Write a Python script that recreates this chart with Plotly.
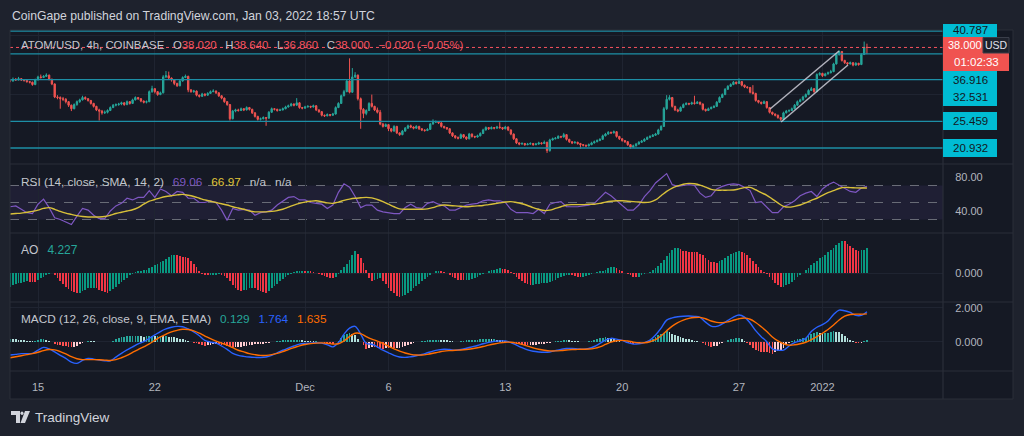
import plotly.graph_objects as go
import pandas as pd

# ---------------- data ----------------
TITLE = "CoinGape published on TradingView.com, Jan 03, 2022 18:57 UTC"
FIRST_CANDLE = "2021-11-13 08:00"
X_RANGE = ["2021-11-13 07:44", "2022-01-08 05:22"]
TICK_DATES = ["2021-11-15", "2021-11-22", "2021-12-01", "2021-12-06",
              "2021-12-13", "2021-12-20", "2021-12-27", "2022-01-01"]
TICK_TEXT = ["15", "22", "Dec", "6", "13", "20", "27", "2022"]

OPEN = [
 32.4,32.3,32.6,32.5,32.7,32.5,32.4,32.2,32.1,31.7,
 32.5,33.0,32.9,33.1,33.3,32.6,31.8,29.6,29.5,29.3,
 29.2,28.8,28.2,27.6,28.3,28.8,29.1,29.5,29.3,29.0,
 28.5,28.0,27.4,27.2,26.9,27.0,27.3,27.8,28.2,28.3,
 28.4,28.6,28.3,28.8,28.5,29.1,29.5,29.3,28.9,28.7,
 28.8,30.5,31.0,30.5,30.0,30.3,33.0,33.2,32.8,32.5,
 31.9,31.5,32.3,32.9,33.1,30.8,30.5,30.6,29.9,29.7,
 30.1,29.9,30.2,30.5,30.6,30.3,29.8,29.4,28.8,28.3,
 25.9,27.2,27.4,27.3,27.6,27.4,27.8,27.5,26.9,26.3,
 25.8,25.9,26.1,26.0,27.0,27.6,27.5,27.3,27.4,27.6,
 27.9,28.1,28.4,28.2,28.6,27.8,27.7,27.9,28.0,27.9,
 28.1,27.4,27.1,26.5,26.4,26.6,26.5,26.7,27.8,28.5,
 29.8,30.5,32.3,30.4,33.0,33.3,29.3,27.5,26.8,27.3,
 28.5,28.0,27.4,27.0,25.0,24.6,24.9,24.2,23.8,24.6,
 23.5,23.2,23.8,24.3,24.7,24.5,24.3,24.6,24.2,24.0,
 23.9,24.1,25.0,25.3,25.4,25.2,24.6,24.4,24.2,23.5,
 23.0,22.7,22.6,23.2,22.8,22.5,23.3,22.9,22.8,23.0,
 23.4,24.0,24.4,24.2,24.4,24.3,24.5,24.4,24.2,24.5,
 24.0,23.3,22.5,21.8,21.6,21.7,21.5,21.6,21.7,21.5,
 21.6,21.8,21.7,21.9,20.5,22.3,22.5,22.6,22.9,22.8,
 23.2,22.4,22.0,21.8,21.9,21.7,21.5,21.4,21.3,21.5,
 21.8,22.0,22.2,22.4,23.0,23.3,23.6,23.5,23.7,22.9,
 22.5,22.2,22.0,21.5,21.1,21.3,21.6,21.9,22.1,22.4,
 22.7,22.9,23.1,23.3,24.0,24.6,27.6,29.2,29.5,28.0,
 27.4,27.2,27.8,28.3,28.5,28.4,28.6,28.5,28.7,28.4,
 27.5,27.3,27.6,27.8,28.0,28.7,29.5,30.0,30.9,31.4,
 31.7,32.1,31.9,32.2,31.6,31.3,31.2,30.4,30.2,29.0,
 28.7,28.5,28.8,27.8,27.0,26.7,26.5,26.1,25.8,26.9,
 27.2,27.3,27.6,28.2,28.8,29.1,29.6,30.0,30.7,31.0,
 30.5,33.4,33.6,33.2,33.5,33.7,33.9,35.2,36.8,37.3,
 35.8,35.4,35.2,35.4,35.0,35.3,35.1,36.8,38.02]

HIGH = [
 32.6,32.9,32.8,33.0,32.8,32.6,32.5,32.3,32.2,32.7,
 33.2,33.4,33.3,33.6,33.4,32.7,31.9,29.9,29.7,29.6,
 29.4,28.9,28.3,28.5,29.0,29.3,29.8,29.7,29.4,29.1,
 28.6,28.1,27.6,27.4,27.3,27.5,28.0,28.4,28.5,28.6,
 28.8,28.7,29.0,28.9,29.3,29.7,29.6,29.4,29.0,29.0,
 30.7,31.5,31.1,30.6,30.5,33.3,34.0,33.9,32.9,32.6,
 32.0,32.5,33.1,33.4,33.2,30.9,30.8,30.7,30.0,30.3,
 30.2,30.4,30.7,30.9,30.7,30.4,29.9,29.5,28.9,28.4,
 27.4,27.6,27.6,27.8,27.7,28.0,27.9,27.6,27.0,26.4,
 26.1,26.3,26.2,27.2,27.8,27.7,27.6,27.6,27.8,28.1,
 28.3,28.6,28.5,29.4,28.7,27.9,28.1,28.2,28.1,28.3,
 28.2,27.5,27.2,26.6,26.8,26.7,26.9,28.0,28.7,30.0,
 30.8,32.5,36.15,34.5,33.8,33.4,29.5,27.7,27.5,28.7,
 30.0,28.1,27.8,27.4,25.2,25.1,25.0,24.3,24.8,24.7,
 23.6,24.0,24.5,24.9,24.9,24.6,24.8,24.7,24.3,24.1,
 24.3,25.2,25.8,25.6,25.5,25.3,24.7,24.5,24.3,23.6,
 23.1,22.9,23.4,23.3,22.9,23.5,23.4,23.0,23.2,23.6,
 24.2,24.6,24.5,24.6,24.5,24.7,25.3,24.5,24.7,24.6,
 24.1,23.4,22.6,21.9,21.9,21.8,21.8,21.9,21.8,21.8,
 22.0,21.9,22.2,22.0,22.5,22.7,22.8,23.1,23.0,23.5,
 23.3,22.5,22.1,22.1,22.0,21.8,21.6,21.5,21.7,22.0,
 22.2,22.4,22.6,23.2,23.5,23.8,23.7,23.9,23.8,23.0,
 22.6,22.3,22.1,21.6,21.5,21.8,22.1,22.3,22.6,22.9,
 23.1,23.3,23.5,24.2,24.8,27.9,29.9,29.9,29.6,28.1,
 27.6,28.0,28.5,28.7,28.6,28.8,29.8,28.9,28.8,28.5,
 27.6,27.8,28.0,28.2,28.9,29.7,30.2,31.1,31.6,31.9,
 32.3,32.2,32.76,32.3,31.7,31.4,31.3,31.6,30.3,29.1,
 28.8,29.0,28.9,27.9,27.1,26.8,26.6,26.2,27.1,27.4,
 27.5,27.8,28.4,29.0,29.3,29.8,30.2,30.9,31.3,31.1,
 33.6,33.8,33.7,33.7,33.9,34.2,35.4,37.0,37.5,37.4,
 35.9,35.5,35.6,35.5,35.5,35.4,37.0,39.0,38.64]

LOW = [
 32.1,32.2,32.3,32.4,32.3,32.2,32.0,31.9,31.5,31.6,
 32.4,32.7,32.8,33.0,32.4,31.6,29.4,29.2,27.6,28.9,
 28.5,27.9,27.2,27.5,28.1,28.6,29.0,29.1,28.8,28.3,
 27.8,27.2,25.6,26.6,26.7,26.8,27.2,27.7,28.0,28.1,
 28.2,28.1,28.2,28.3,28.4,29.0,29.1,28.7,28.5,28.5,
 28.7,30.3,30.2,29.8,29.9,30.2,32.8,32.6,32.2,31.6,
 31.3,31.4,32.2,32.8,30.4,30.3,30.3,29.7,29.5,29.6,
 29.7,29.8,30.1,30.4,30.1,29.6,29.2,28.6,28.1,25.6,
 25.8,27.0,27.1,27.2,27.2,27.3,27.3,26.7,26.1,25.6,
 25.6,25.8,24.7,25.9,26.9,27.3,27.1,27.2,27.3,27.5,
 27.8,28.0,28.0,28.1,27.6,27.5,27.6,27.8,27.7,27.8,
 27.2,26.9,26.3,26.2,26.3,26.3,26.4,26.6,27.7,28.4,
 29.7,30.4,30.2,30.3,32.8,29.0,24.2,26.0,26.5,27.2,
 27.8,27.2,26.8,24.8,24.4,24.5,23.8,23.6,23.7,23.3,
 23.0,23.1,23.7,24.2,24.3,24.1,24.2,24.0,23.8,23.7,
 23.8,24.0,24.9,25.2,25.0,24.4,24.2,24.0,23.3,22.8,
 22.5,22.4,22.5,22.6,22.3,22.4,22.7,22.6,22.7,22.9,
 23.3,23.9,24.0,24.1,24.1,24.2,24.2,24.0,24.1,23.8,
 23.1,22.3,21.6,21.4,21.5,21.3,21.4,21.5,21.3,21.4,
 21.5,21.5,21.6,20.1,20.3,22.2,22.4,22.5,22.6,22.7,
 22.2,21.8,21.6,21.7,21.5,20.8,21.2,21.1,21.2,21.4,
 21.7,21.9,22.1,22.3,22.9,23.2,23.3,23.4,22.7,22.3,
 22.0,21.8,21.3,20.8,21.0,21.2,21.5,21.8,22.0,22.3,
 22.6,22.8,23.0,23.2,23.9,24.5,27.4,29.0,27.8,27.2,
 27.0,27.1,27.7,28.2,28.2,28.3,28.3,28.4,28.2,27.3,
 27.1,27.2,27.5,27.7,27.9,28.6,29.4,29.9,30.8,31.3,
 31.6,31.7,31.8,31.4,31.1,31.0,30.2,30.0,28.8,28.5,
 28.3,28.4,27.6,26.8,26.5,26.3,25.9,25.4,25.7,26.8,
 27.0,27.2,27.5,28.1,28.7,29.0,29.5,29.9,30.6,30.3,
 30.4,33.2,33.0,33.1,33.4,33.6,33.8,35.1,36.6,35.6,
 35.2,35.0,35.1,34.8,34.9,34.9,35.0,36.7,36.86]

CLOSE = [
 32.3,32.6,32.5,32.7,32.5,32.4,32.2,32.1,31.7,32.5,
 33.0,32.9,33.1,33.3,32.6,31.8,29.6,29.5,29.3,29.2,
 28.8,28.2,27.6,28.3,28.8,29.1,29.5,29.3,29.0,28.5,
 28.0,27.4,27.2,26.9,27.0,27.3,27.8,28.2,28.3,28.4,
 28.6,28.3,28.8,28.5,29.1,29.5,29.3,28.9,28.7,28.8,
 30.5,31.0,30.5,30.0,30.3,33.0,33.2,32.8,32.5,31.9,
 31.5,32.3,32.9,33.1,30.8,30.5,30.6,29.9,29.7,30.1,
 29.9,30.2,30.5,30.6,30.3,29.8,29.4,28.8,28.3,25.9,
 27.2,27.4,27.3,27.6,27.4,27.8,27.5,26.9,26.3,25.8,
 25.9,26.1,26.0,27.0,27.6,27.5,27.3,27.4,27.6,27.9,
 28.1,28.4,28.2,28.6,27.8,27.7,27.9,28.0,27.9,28.1,
 27.4,27.1,26.5,26.4,26.6,26.5,26.7,27.8,28.5,29.8,
 30.5,32.3,30.4,33.0,33.3,29.3,27.5,26.8,27.3,28.5,
 28.0,27.4,27.0,25.0,24.6,24.9,24.2,23.8,24.6,23.5,
 23.2,23.8,24.3,24.7,24.5,24.3,24.6,24.2,24.0,23.9,
 24.1,25.0,25.3,25.4,25.2,24.6,24.4,24.2,23.5,23.0,
 22.7,22.6,23.2,22.8,22.5,23.3,22.9,22.8,23.0,23.4,
 24.0,24.4,24.2,24.4,24.3,24.5,24.4,24.2,24.5,24.0,
 23.3,22.5,21.8,21.6,21.7,21.5,21.6,21.7,21.5,21.6,
 21.8,21.7,21.9,20.5,22.3,22.5,22.6,22.9,22.8,23.2,
 22.4,22.0,21.8,21.9,21.7,21.5,21.4,21.3,21.5,21.8,
 22.0,22.2,22.4,23.0,23.3,23.6,23.5,23.7,22.9,22.5,
 22.2,22.0,21.5,21.1,21.3,21.6,21.9,22.1,22.4,22.7,
 22.9,23.1,23.3,24.0,24.6,27.6,29.2,29.5,28.0,27.4,
 27.2,27.8,28.3,28.5,28.4,28.6,28.5,28.7,28.4,27.5,
 27.3,27.6,27.8,28.0,28.7,29.5,30.0,30.9,31.4,31.7,
 32.1,31.9,32.2,31.6,31.3,31.2,30.4,30.2,29.0,28.7,
 28.5,28.8,27.8,27.0,26.7,26.5,26.1,25.8,26.9,27.2,
 27.3,27.6,28.2,28.8,29.1,29.6,30.0,30.7,31.0,30.5,
 33.4,33.6,33.2,33.5,33.7,33.9,35.2,36.8,37.3,35.8,
 35.4,35.2,35.4,35.0,35.3,35.1,36.8,38.02,38.0]

AO = [
 -2.3,-2.1,-1.9,-1.7,-1.6,-1.5,-1.4,-1.45,-1.5,-1.55,
 -1.2,-0.9,-0.6,-0.3,-0.1,-0.05,-0.4,-0.9,-1.4,-1.9,
 -2.3,-2.7,-3.0,-3.2,-3.3,-3.3,-3.1,-2.9,-2.6,-2.5,
 -2.45,-2.6,-2.8,-3.0,-3.2,-3.3,-3.1,-2.7,-2.3,-1.9,
 -1.5,-1.1,-0.8,-0.4,-0.1,0.2,0.3,0.4,0.5,0.6,
 0.8,1.1,1.3,1.5,1.8,2.1,2.4,2.8,3.0,3.1,
 3.0,2.9,2.8,2.7,2.5,2.1,1.6,1.0,0.4,-0.1,
 -0.3,-0.4,-0.35,-0.3,-0.25,-0.2,-0.3,-0.5,-0.8,-1.4,
 -2.0,-2.5,-2.9,-3.1,-2.9,-2.8,-2.6,-2.5,-2.6,-2.8,
 -3.0,-3.2,-3.3,-3.0,-2.6,-2.2,-1.8,-1.4,-1.0,-0.7,
 -0.4,-0.1,0.2,0.3,0.35,0.4,0.3,0.35,0.3,0.25,
 0.1,-0.2,-0.4,-0.5,-0.7,-0.8,-0.9,-0.6,-0.1,0.5,
 1.0,1.6,2.3,3.0,3.8,3.3,2.5,1.7,0.5,-0.9,
 -1.4,-1.2,-1.0,-0.8,-1.3,-1.9,-2.5,-3.0,-3.4,-3.8,
 -4.0,-3.9,-3.7,-3.4,-3.0,-2.6,-2.2,-1.8,-1.4,-1.0,
 -0.6,-0.3,0.1,0.3,0.4,0.35,0.2,0.0,-0.3,-0.6,
 -0.9,-1.1,-1.2,-1.25,-1.2,-1.1,-1.0,-0.8,-0.6,-0.4,
 -0.2,0.1,0.3,0.5,0.6,0.7,0.8,0.75,0.7,0.5,
 0.2,-0.2,-0.6,-1.0,-1.4,-1.7,-1.9,-2.0,-2.0,-1.9,
 -1.8,-1.7,-1.6,-1.6,-1.5,-1.3,-1.1,-0.9,-0.7,-0.5,
 -0.35,-0.3,-0.4,-0.5,-0.6,-0.65,-0.6,-0.5,-0.35,-0.2,
 0.0,0.15,0.3,0.4,0.6,0.8,1.0,1.1,0.9,0.6,
 0.3,0.0,-0.2,-0.4,-0.6,-0.7,-0.6,-0.4,-0.2,0.0,
 0.2,0.5,0.8,1.2,1.7,2.3,2.9,3.4,3.9,4.2,
 4.3,4.1,3.8,3.7,3.65,3.6,3.55,3.5,3.3,3.0,
 2.6,2.2,1.9,1.8,1.75,2.0,2.3,2.6,2.9,3.2,
 3.4,3.6,3.7,3.65,3.4,3.0,2.5,2.0,1.5,1.0,
 0.5,0.2,-0.2,-0.7,-1.2,-1.7,-2.1,-2.4,-2.3,-2.1,
 -1.8,-1.5,-1.1,-0.7,-0.3,0.1,0.5,0.9,1.3,1.7,
 2.1,2.5,2.8,3.1,3.5,3.9,4.3,4.7,5.1,5.5,
 5.4,5.0,4.6,4.2,3.9,3.7,3.85,4.0,4.227]

MACD_HIST = [
 0.16,0.15,0.14,0.13,0.12,0.09,0.06,0.04,0.02,0.07,
 0.12,0.16,0.19,0.11,0.04,-0.04,-0.12,-0.17,-0.22,-0.24,
 -0.26,-0.29,-0.32,-0.3,-0.27,-0.16,-0.05,0.01,0.07,0.05,
 0.03,0.0,-0.02,-0.03,-0.04,-0.03,-0.02,0.07,0.15,0.22,
 0.26,0.29,0.32,0.33,0.33,0.34,0.34,0.32,0.3,0.32,
 0.33,0.33,0.32,0.32,0.32,0.31,0.31,0.29,0.27,0.25,
 0.23,0.19,0.15,0.09,0.03,-0.02,-0.06,-0.1,-0.15,-0.2,
 -0.25,-0.22,-0.2,-0.16,-0.12,-0.15,-0.17,-0.21,-0.25,-0.3,
 -0.33,-0.32,-0.3,-0.28,-0.26,-0.23,-0.2,-0.18,-0.16,-0.14,
 -0.13,-0.11,-0.1,-0.07,-0.04,0.0,0.03,0.06,0.08,0.08,
 0.08,0.09,0.1,0.1,0.1,0.08,0.06,0.04,0.03,0.02,
 0.02,0.0,-0.01,-0.05,-0.09,-0.13,-0.16,-0.03,0.07,0.23,
 0.4,0.45,0.5,0.45,0.4,0.18,-0.03,-0.22,-0.4,-0.35,
 -0.3,-0.32,-0.34,-0.37,-0.4,-0.39,-0.39,-0.38,-0.38,-0.36,
 -0.35,-0.3,-0.26,-0.2,-0.14,-0.08,-0.04,0.0,0.03,0.06,
 0.09,0.11,0.13,0.13,0.13,0.12,0.11,0.09,0.06,0.03,
 0.0,0.01,0.03,0.06,0.08,0.1,0.11,0.12,0.13,0.15,
 0.16,0.16,0.16,0.15,0.15,0.13,0.12,0.1,0.07,0.02,
 -0.02,-0.07,-0.12,-0.16,-0.19,-0.21,-0.22,-0.21,-0.2,-0.18,
 -0.16,-0.14,-0.12,-0.09,-0.06,-0.02,0.02,0.05,0.07,0.08,
 0.09,0.08,0.06,0.04,0.03,0.01,0.0,0.01,0.03,0.07,
 0.11,0.16,0.2,0.24,0.26,0.24,0.22,0.16,0.09,0.04,
 0.0,-0.04,-0.09,-0.11,-0.12,-0.09,-0.06,-0.03,0.01,0.05,
 0.1,0.19,0.28,0.37,0.45,0.54,0.62,0.55,0.48,0.41,
 0.35,0.29,0.23,0.18,0.14,0.1,0.07,0.03,0.0,-0.1,
 -0.2,-0.25,-0.3,-0.27,-0.24,-0.15,-0.07,0.01,0.08,0.14,
 0.19,0.21,0.22,0.14,0.06,-0.08,-0.22,-0.35,-0.48,-0.54,
 -0.58,-0.59,-0.6,-0.65,-0.7,-0.62,-0.55,-0.46,-0.37,-0.21,
 -0.05,0.04,0.13,0.15,0.17,0.2,0.23,0.36,0.48,0.52,
 0.55,0.53,0.5,0.5,0.5,0.56,0.62,0.6,0.58,0.45,
 0.32,0.22,0.12,0.02,-0.07,-0.08,-0.07,0.03,0.129]

# lines sampled every second candle (8h)
RSI = [
 45,46,42,38,37,48,54,44,32,30,
 27,24,34,43,41,35,31,31,40,46,
 49,55,53,56,56,64,56,66,63,58,
 63,62,55,55,50,50,52,50,41,29,
 43,41,42,41,35,38,39,41,47,51,
 56,57,53,53,50,49,48,43,47,62,
 72,68,57,44,47,47,41,39,38,37,
 37,44,48,44,43,49,51,48,46,41,
 41,44,47,48,49,52,53,52,52,50,
 42,38,38,38,37,42,37,48,50,51,
 45,45,45,46,47,49,56,62,58,52,
 46,41,41,47,57,64,73,79,84,71,
 69,70,71,70,61,56,58,66,69,71,
 72,71,68,64,50,51,44,38,38,45,
 48,52,58,61,63,57,66,71,74,70,
 67,63,62,67,69.06]

RSI_SMA = [
 36.5,37,37.5,38.5,39.5,41,43,44,42,39.5,
 37.5,36,34.5,33.5,33,33,33,33.5,35,37,
 38.5,40,41.5,44,48,51.5,53.5,55.5,57,58,
 59,59.6,58.5,57,55,53,51.5,50,48.5,47,
 45,43.5,42,40,39,39,39,39.5,40.5,42,
 44.5,47,49,50.5,51.5,52,51,49.5,49,50.5,
 52.5,54,55,55.5,56,55.5,53.5,51,48,45,
 42.5,42,42,42,42,42.5,44,46,47,46.5,
 46,45.5,45,45.5,46,46.5,47.5,48.5,49.5,50.5,
 51,50,48.5,46.5,44,42,40.5,41,43,45,
 47,47.5,47.5,47.5,48,48,49,50.5,51.5,52,
 52,51.5,51,50.5,50,50.5,53,58,63,67,
 69.5,71.5,72.5,72,70.5,68,65.5,64.5,64.5,64.5,
 64.7,66,67.5,67.8,65,61.5,58.5,54,49.5,45.5,
 44.5,45.5,47,49.5,52.5,55,58.5,61.5,64,66.5,
 67.8,67.5,67.2,67,66.97]

MACD = [
 -0.78,-0.74,-0.7,-0.7,-0.68,-0.5,-0.33,-0.42,-0.6,-0.8,
 -0.98,-1.2,-1.27,-1.1,-0.98,-1.02,-1.08,-1.12,-1.12,-0.9,
 -0.68,-0.48,-0.3,-0.12,0,0.2,0.4,0.6,0.75,0.85,
 0.9,0.88,0.75,0.58,0.35,0.08,-0.02,-0.08,-0.25,-0.45,
 -0.68,-0.8,-0.86,-0.9,-0.92,-0.93,-0.9,-0.8,-0.65,-0.5,
 -0.38,-0.25,-0.14,-0.1,-0.08,-0.06,-0.08,-0.18,-0.3,-0.05,
 0.45,0.8,0.9,0.45,-0.1,-0.15,-0.3,-0.5,-0.65,-0.8,
 -0.9,-0.92,-0.88,-0.82,-0.75,-0.65,-0.55,-0.48,-0.44,-0.46,
 -0.5,-0.46,-0.38,-0.3,-0.22,-0.12,-0.04,0.02,0.05,0.04,
 -0.05,-0.2,-0.35,-0.48,-0.56,-0.6,-0.62,-0.6,-0.52,-0.45,
 -0.4,-0.4,-0.42,-0.44,-0.4,-0.28,-0.1,0.1,0.2,0.15,
 0.08,-0.05,-0.14,-0.12,-0.05,0.1,0.4,0.8,1.27,1.4,
 1.47,1.5,1.51,1.49,1.43,1.15,0.92,0.9,1.05,1.25,
 1.45,1.57,1.45,1.1,0.65,0.3,0,-0.42,-0.5,-0.49,
 -0.25,-0.05,0.05,0.2,0.6,0.85,1.0,1.22,1.6,1.86,
 1.82,1.72,1.55,1.55,1.764]

SIGNAL = [
 -0.94,-0.88,-0.82,-0.76,-0.7,-0.62,-0.52,-0.46,-0.48,-0.58,
 -0.72,-0.88,-1.0,-1.05,-1.05,-1.05,-1.06,-1.08,-1.1,-1.05,
 -0.94,-0.8,-0.63,-0.46,-0.3,-0.13,0.08,0.28,0.44,0.58,
 0.67,0.73,0.72,0.64,0.5,0.33,0.18,0.04,-0.08,-0.2,
 -0.35,-0.5,-0.6,-0.7,-0.76,-0.8,-0.8,-0.76,-0.68,-0.58,
 -0.46,-0.35,-0.24,-0.16,-0.11,-0.08,-0.07,-0.09,-0.14,-0.12,
 0.05,0.3,0.5,0.48,0.3,0.15,0.04,-0.1,-0.26,-0.42,
 -0.55,-0.66,-0.74,-0.78,-0.78,-0.74,-0.68,-0.61,-0.55,-0.52,
 -0.5,-0.49,-0.46,-0.41,-0.35,-0.28,-0.2,-0.13,-0.07,-0.03,
 -0.03,-0.08,-0.16,-0.26,-0.36,-0.44,-0.5,-0.54,-0.54,-0.52,
 -0.49,-0.46,-0.45,-0.44,-0.43,-0.39,-0.3,-0.16,-0.02,0.06,
 0.08,0.04,-0.02,-0.06,-0.06,0.0,0.12,0.35,0.65,0.92,
 1.12,1.27,1.37,1.42,1.43,1.35,1.22,1.14,1.12,1.17,
 1.26,1.35,1.39,1.32,1.13,0.88,0.6,0.28,0.05,-0.12,
 -0.2,-0.18,-0.12,-0.03,0.12,0.3,0.5,0.72,0.98,1.28,
 1.5,1.6,1.62,1.62,1.635]

LEVELS = [40.787, 36.916, 32.531, 25.459, 20.932]
LAST_PRICE = 38.000
CHANNEL = [
    ("2021-12-28 20:38", 27.55, "2022-01-01 23:50", 37.39),
    ("2021-12-29 12:28", 25.34, "2022-01-02 12:43", 35.02),
]

n = len(CLOSE)
assert len(OPEN) == n and len(HIGH) == n and len(LOW) == n, (len(OPEN), len(HIGH), len(LOW), n)
assert len(AO) == n and len(MACD_HIST) == n, (len(AO), len(MACD_HIST))
assert len(RSI) == len(RSI_SMA) == len(MACD) == len(SIGNAL) == (n + 1) // 2

DATES = pd.date_range(FIRST_CANDLE, periods=n, freq="4h")
DATES_8H = DATES[::2]

# ---------------- style ----------------
W, H = 1024, 436
OUTER = "#1e222d"
BG = "#151924"
GRID = "#1f2431"
SEP = "#2a2e39"
TXT = "#b2b5be"
UP, DOWN = "#26a69a", "#ef5350"
FONT = "Liberation Sans, Arial, sans-serif"
NARROW = "Liberation Sans Narrow, Liberation Sans, sans-serif"


def fx(p):
    return p / W


def fy(p):
    return 1 - p / H


X0, X1 = 10, 943      # plotting area left/right (px)
RIGHT = 1013           # chart frame right
TOP = 30
P_SEP = [164, 233, 302, 371]
BOTTOM = 399

fig = go.Figure()

fig.add_trace(go.Candlestick(
    x=DATES, open=OPEN, high=HIGH, low=LOW, close=CLOSE,
    increasing=dict(line=dict(color=UP, width=1), fillcolor=UP),
    decreasing=dict(line=dict(color=DOWN, width=1), fillcolor=DOWN),
    whiskerwidth=0, xaxis="x", yaxis="y", hoverinfo="skip"))

fig.add_trace(go.Scatter(x=DATES_8H, y=RSI, mode="lines",
                         line=dict(color="#7e57c2", width=1.2), xaxis="x2", yaxis="y2"))
fig.add_trace(go.Scatter(x=DATES_8H, y=RSI_SMA, mode="lines",
                         line=dict(color="#d8c03a", width=1.4, shape="spline"), xaxis="x2", yaxis="y2"))

ao_colors = []
for i, v in enumerate(AO):
    rising = i == 0 or v >= AO[i - 1]
    ao_colors.append("#089981" if rising else "#f23645")
bar_w = 4 * 3600 * 1000 * 0.62
fig.add_trace(go.Bar(x=DATES, y=AO, marker=dict(color=ao_colors, line=dict(width=0)),
                     width=bar_w, xaxis="x3", yaxis="y3"))

h_colors = []
for i, v in enumerate(MACD_HIST):
    prev = MACD_HIST[i - 1] if i else v
    if v >= 0:
        h_colors.append("#26a69a" if v >= prev else "#b2dfdb")
    else:
        h_colors.append("#ff5252" if v <= prev else "#ffcdd2")
fig.add_trace(go.Bar(x=DATES, y=MACD_HIST, marker=dict(color=h_colors, line=dict(width=0)),
                     width=bar_w, xaxis="x4", yaxis="y4"))
fig.add_trace(go.Scatter(x=DATES_8H, y=MACD, mode="lines",
                         line=dict(color="#2962ff", width=1.4, shape="spline"), xaxis="x4", yaxis="y4"))
fig.add_trace(go.Scatter(x=DATES_8H, y=SIGNAL, mode="lines",
                         line=dict(color="#ff6d00", width=1.4, shape="spline"), xaxis="x4", yaxis="y4"))

# ---------------- axes ----------------
xdom = [fx(X0), fx(X1)]
common_x = dict(type="date", range=X_RANGE, domain=xdom, showgrid=True, gridcolor=GRID,
                gridwidth=1, zeroline=False, showline=False, tickvals=TICK_DATES,
                ticktext=TICK_TEXT, showticklabels=False, fixedrange=True)
common_y = dict(side="right", zeroline=False, showline=False, showgrid=True, gridcolor=GRID,
                ticks="outside", ticklen=9, tickcolor="rgba(0,0,0,0)",
                tickfont=dict(color=TXT, size=11, family=FONT), fixedrange=True)

fig.update_layout(
    xaxis=dict(common_x, anchor="y", rangeslider=dict(visible=False)),
    xaxis2=dict(common_x, anchor="y2", matches="x"),
    xaxis3=dict(common_x, anchor="y3", matches="x"),
    xaxis4=dict(common_x, anchor="y4", matches="x", showticklabels=True, ticks="outside",
                ticklen=6, tickcolor="rgba(0,0,0,0)",
                tickfont=dict(color=TXT, size=11, family=NARROW)),
    yaxis=dict(common_y, anchor="x", domain=[fy(P_SEP[0]), fy(TOP)], range=[18.22, 40.96],
               tickvals=[30, 40], showticklabels=False),
    yaxis2=dict(common_y, anchor="x2", domain=[fy(P_SEP[1]), fy(P_SEP[0])], range=[14.1, 95.3],
                tickvals=[40, 80], ticktext=["40.00", "80.00"], showgrid=False),
    yaxis3=dict(common_y, anchor="x3", domain=[fy(P_SEP[2]), fy(P_SEP[1])], range=[-4.9, 6.8],
                tickvals=[0], ticktext=["0.000"]),
    yaxis4=dict(common_y, anchor="x4", domain=[fy(P_SEP[3]), fy(P_SEP[2])], range=[-1.72, 2.335],
                tickvals=[0, 2], ticktext=["0.000", "2.000"]),
)

# ---------------- shapes ----------------
shapes = []
shapes.append(dict(type="rect", xref="paper", yref="paper", x0=fx(X0), x1=fx(RIGHT),
                   y0=fy(BOTTOM), y1=fy(TOP), fillcolor=BG, line=dict(width=0), layer="below"))
shapes.append(dict(type="rect", xref="paper", yref="y2", x0=fx(X0), x1=fx(X1), y0=30, y1=70,
                   fillcolor="rgba(126,87,194,0.10)", line=dict(width=0), layer="below"))
for lv in (70, 50, 30):
    shapes.append(dict(type="line", xref="paper", yref="y2", x0=fx(X0), x1=fx(X1), y0=lv, y1=lv,
                       line=dict(color="#6a6d78", width=1, dash="dash"), layer="below"))
for lv in LEVELS:
    shapes.append(dict(type="line", xref="paper", yref="y", x0=fx(X0), x1=fx(X1), y0=lv, y1=lv,
                       line=dict(color="#1d8fa6", width=1.4)))
shapes.append(dict(type="line", xref="paper", yref="y", x0=fx(X0), x1=fx(X1), y0=LAST_PRICE,
                   y1=LAST_PRICE, line=dict(color="#f7525f", width=1, dash="dot")))
for xa, ya, xb, yb in CHANNEL:
    shapes.append(dict(type="line", xref="x", yref="y", x0=xa, y0=ya, x1=xb, y1=yb,
                       line=dict(color="rgba(205,205,215,0.85)", width=1.5)))
# panel separators and frame
for yy in P_SEP:
    shapes.append(dict(type="line", xref="paper", yref="paper", x0=fx(X0), x1=fx(RIGHT),
                       y0=fy(yy), y1=fy(yy), line=dict(color=SEP, width=1.2)))
shapes.append(dict(type="line", xref="paper", yref="paper", x0=fx(X1), x1=fx(X1),
                   y0=fy(BOTTOM), y1=fy(TOP), line=dict(color=SEP, width=1.2)))
shapes.append(dict(type="rect", xref="paper", yref="paper", x0=fx(X0), x1=fx(RIGHT),
                   y0=fy(BOTTOM), y1=fy(TOP), line=dict(color=SEP, width=1)))

# price-scale label boxes
CYAN = "#00bcd4"
boxes = [(24, 37, 997, CYAN), (71, 106, 997, CYAN), (112, 130, 997, CYAN),
         (139, 157, 997, CYAN), (37, 71, 1009, "#f05350")]
for y0, y1, xr, col in boxes:
    shapes.append(dict(type="rect", xref="paper", yref="paper", x0=fx(X1), x1=fx(xr),
                       y0=fy(y1), y1=fy(y0), fillcolor=col, line=dict(width=0)))
shapes.append(dict(type="rect", xref="paper", yref="paper", x0=fx(983), x1=fx(1009),
                   y0=fy(53), y1=fy(37.5), fillcolor="#1e222d", line=dict(color="#3a3e4a", width=1)))

# TradingView logo glyph
shapes.append(dict(type="path", xref="paper", yref="paper",
                   path=f"M {fx(11)} {fy(411)} L {fx(20)} {fy(411)} L {fx(20)} {fy(423)} L {fx(16)} {fy(423)} "
                        f"L {fx(16)} {fy(415)} L {fx(11)} {fy(415)} Z",
                   fillcolor="#d1d4dc", line=dict(width=0)))
shapes.append(dict(type="circle", xref="paper", yref="paper", x0=fx(20.5), x1=fx(23.5),
                   y0=fy(415), y1=fy(411.5), fillcolor="#d1d4dc", line=dict(width=0)))
shapes.append(dict(type="path", xref="paper", yref="paper",
                   path=f"M {fx(25)} {fy(411)} L {fx(30)} {fy(411)} L {fx(25)} {fy(423)} L {fx(20.5)} {fy(423)} Z",
                   fillcolor="#d1d4dc", line=dict(width=0)))

# ---------------- texts ----------------
ann = []


def label(x, y, text, size=12, color=TXT, anchor="left", family=FONT):
    ann.append(dict(xref="paper", yref="paper", x=fx(x), y=fy(y), text=text, showarrow=False,
                    xanchor=anchor, yanchor="middle", font=dict(size=size, color=color, family=family)))


def span(t, c):
    return f"<span style='color:{c}'>{t}</span>"


SP = "\u00a0\u00a0\u2009"
RED = "#f7525f"
GRAY = "#c3c6ce"
label(10, 15.5, TITLE, size=12.2, color="#d1d4dc")
label(19, 44.5, span("ATOM/USD, 4h, COINBASE", GRAY) + SP + span("O", GRAY) + span("38.020", RED) + SP
      + span("H", GRAY) + span("38.640", RED) + SP + span("L", GRAY) + span("36.860", RED) + SP
      + span("C", GRAY) + span("38.000", RED) + SP + span("\u22120.020 (\u22120.05%)", RED), size=11.4)
label(19, 181.5, span("RSI (14, close, SMA, 14, 2)", GRAY) + SP + span("69.06", "#7e57c2") + SP
      + span("66.97", "#e0c53a") + SP + span("n/a" + SP + "n/a", GRAY), size=11.8)
label(19, 249.5, span("AO", GRAY) + SP + span("4.227", "#26a69a"), size=12)
label(19, 318.5, span("MACD (12, 26, close, 9, EMA, EMA)", GRAY) + SP + span("0.129", "#26a69a") + SP
      + span("1.764", "#2962ff") + SP + span("1.635", "#ff6d00"), size=11.8)

label(970, 30, "40.787", size=11.5, color="#131722", anchor="center")
label(970, 80, "36.916", size=11.5, color="#131722", anchor="center")
label(970, 97, "32.531", size=11.5, color="#131722", anchor="center")
label(970, 121, "25.459", size=11.5, color="#131722", anchor="center")
label(970, 148, "20.932", size=11.5, color="#131722", anchor="center")
label(945.5, 45.5, "38.000", size=11, color="#ffffff", anchor="left")
label(996, 45.5, "USD", size=10.5, color="#e0e3eb", anchor="center")
label(976, 62, "01:02:33", size=11.5, color="#ffffff", anchor="center")

label(33, 417, "TradingView", size=13.5, color="#d1d4dc", family=NARROW)

fig.update_layout(
    width=W, height=H, margin=dict(l=0, r=0, t=0, b=0), autosize=False,
    paper_bgcolor=OUTER, plot_bgcolor="rgba(0,0,0,0)", showlegend=False,
    hovermode=False, shapes=shapes, annotations=ann, bargap=0,
    font=dict(family=FONT, color=TXT),
)

fig.write_html("out.html", config={"displayModeBar": False, "staticPlot": True},
               post_script="document.body.style.margin='0';document.body.style.overflow='hidden';")
